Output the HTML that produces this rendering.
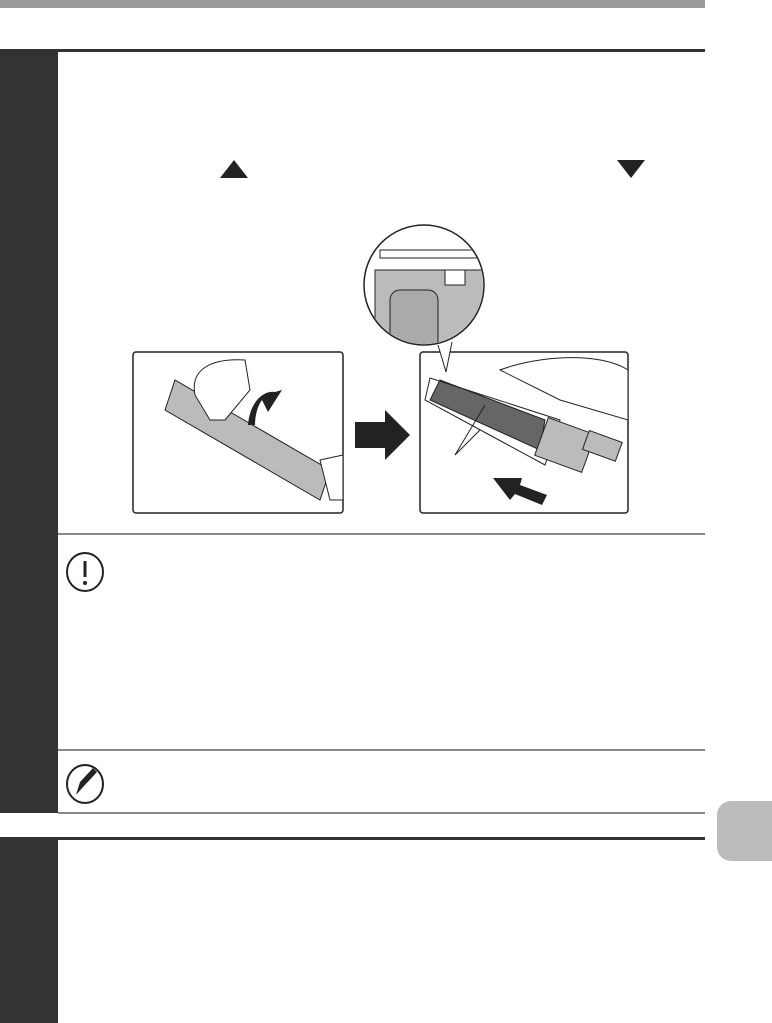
<!DOCTYPE html>
<html><head><meta charset="utf-8"><style>
html,body{margin:0;padding:0;background:#fff;}
body{width:772px;height:1023px;position:relative;overflow:hidden;font-family:"Liberation Sans",sans-serif;}
.a{position:absolute;}
</style></head><body>
<div class="a" style="left:0;top:0;width:705px;height:8px;background:#999;"></div>
<div class="a" style="left:0;top:49px;width:705px;height:3px;background:#333;"></div>
<div class="a" style="left:0;top:49px;width:58px;height:764px;background:#333;"></div>
<div class="a" style="left:58px;top:533px;width:647px;height:2px;background:#888;"></div>
<div class="a" style="left:58px;top:749px;width:647px;height:2px;background:#888;"></div>
<div class="a" style="left:58px;top:812px;width:647px;height:2px;background:#888;"></div>
<div class="a" style="left:0;top:837px;width:705px;height:3px;background:#333;"></div>
<div class="a" style="left:0;top:837px;width:58px;height:186px;background:#333;"></div>
<div class="a" style="left:717px;top:801px;width:60px;height:60px;background:#bbb;border-radius:14px 0 0 14px;"></div>
<svg class="a" style="left:0;top:0" width="772" height="1023">
<polygon points="220,178 248,178 234,160" fill="#222"/>
<polygon points="617,160 645,160 631,178" fill="#222"/>
<!-- left illus -->
<rect x="133" y="352" width="210" height="161" rx="3" fill="#fff" stroke="#222" stroke-width="1.5"/>
<polygon points="175,380 330,470 320,500 165,410" fill="#bbb" stroke="#222"/>
<path d="M195,395 C190,370 210,358 245,360 L250,390 L225,420 L210,420 Z" fill="#fff" stroke="#222"/>
<path d="M248,425 C250,400 265,390 275,392 L282,390 L268,412 L262,400 C258,405 255,415 255,425 Z" fill="#222"/>
<path d="M320,460 L343,455 L343,500 L330,500 Z" fill="#fff" stroke="#222"/>
<!-- arrow -->
<polygon points="355,422 385,422 385,410 410,435 385,460 385,448 355,448" fill="#222"/>
<!-- right illus -->
<rect x="420" y="352" width="208" height="161" rx="3" fill="#fff" stroke="#222" stroke-width="1.5"/>
<polygon points="440,380 545,420 540,450 430,400" fill="#666" stroke="#222"/>
<polygon points="430,378 560,420 545,465 425,400" fill="none" stroke="#222"/>
<rect x="540" y="425" width="50" height="40" fill="#bbb" stroke="#222" transform="rotate(20 565 445)"/>
<rect x="585" y="435" width="35" height="20" fill="#bbb" stroke="#222" transform="rotate(20 600 445)"/>
<path d="M500,370 C540,355 600,352 628,370 L628,420 L560,400 Z" fill="#fff" stroke="#222"/>
<polygon points="547,495 520,485 522,478 493,478 510,500 515,494 542,505" fill="#222"/>
<line x1="485" y1="405" x2="455" y2="455" stroke="#222"/>
<line x1="480" y1="430" x2="455" y2="455" stroke="#222"/>
<!-- circle -->
<path d="M438,345 L446,372 L452,342" fill="#fff" stroke="#222"/>
<circle cx="424" cy="285" r="60" fill="#fff" stroke="#222" stroke-width="1.5"/>
<clipPath id="c"><circle cx="424" cy="285" r="59"/></clipPath>
<g clip-path="url(#c)">
<rect x="375" y="270" width="110" height="80" fill="#bbb" stroke="#222"/>
<rect x="390" y="290" width="48" height="60" rx="10" fill="#aaa" stroke="#222"/>
<rect x="380" y="250" width="100" height="8" fill="#fff" stroke="#222"/>
<polygon points="445,270 465,270 465,285 445,285" fill="#fff" stroke="#222"/>
</g>
<!-- icons -->
<ellipse cx="85" cy="572" rx="18" ry="19" fill="none" stroke="#222" stroke-width="2"/>
<line x1="85" y1="561" x2="85" y2="577" stroke="#222" stroke-width="3"/>
<circle cx="85" cy="583" r="2" fill="#222"/>
<ellipse cx="85" cy="784" rx="18" ry="19" fill="none" stroke="#222" stroke-width="2"/>
<polygon points="76,795 80,782 93,768 97,772 84,786" fill="#222"/>
</svg>
</body></html>
